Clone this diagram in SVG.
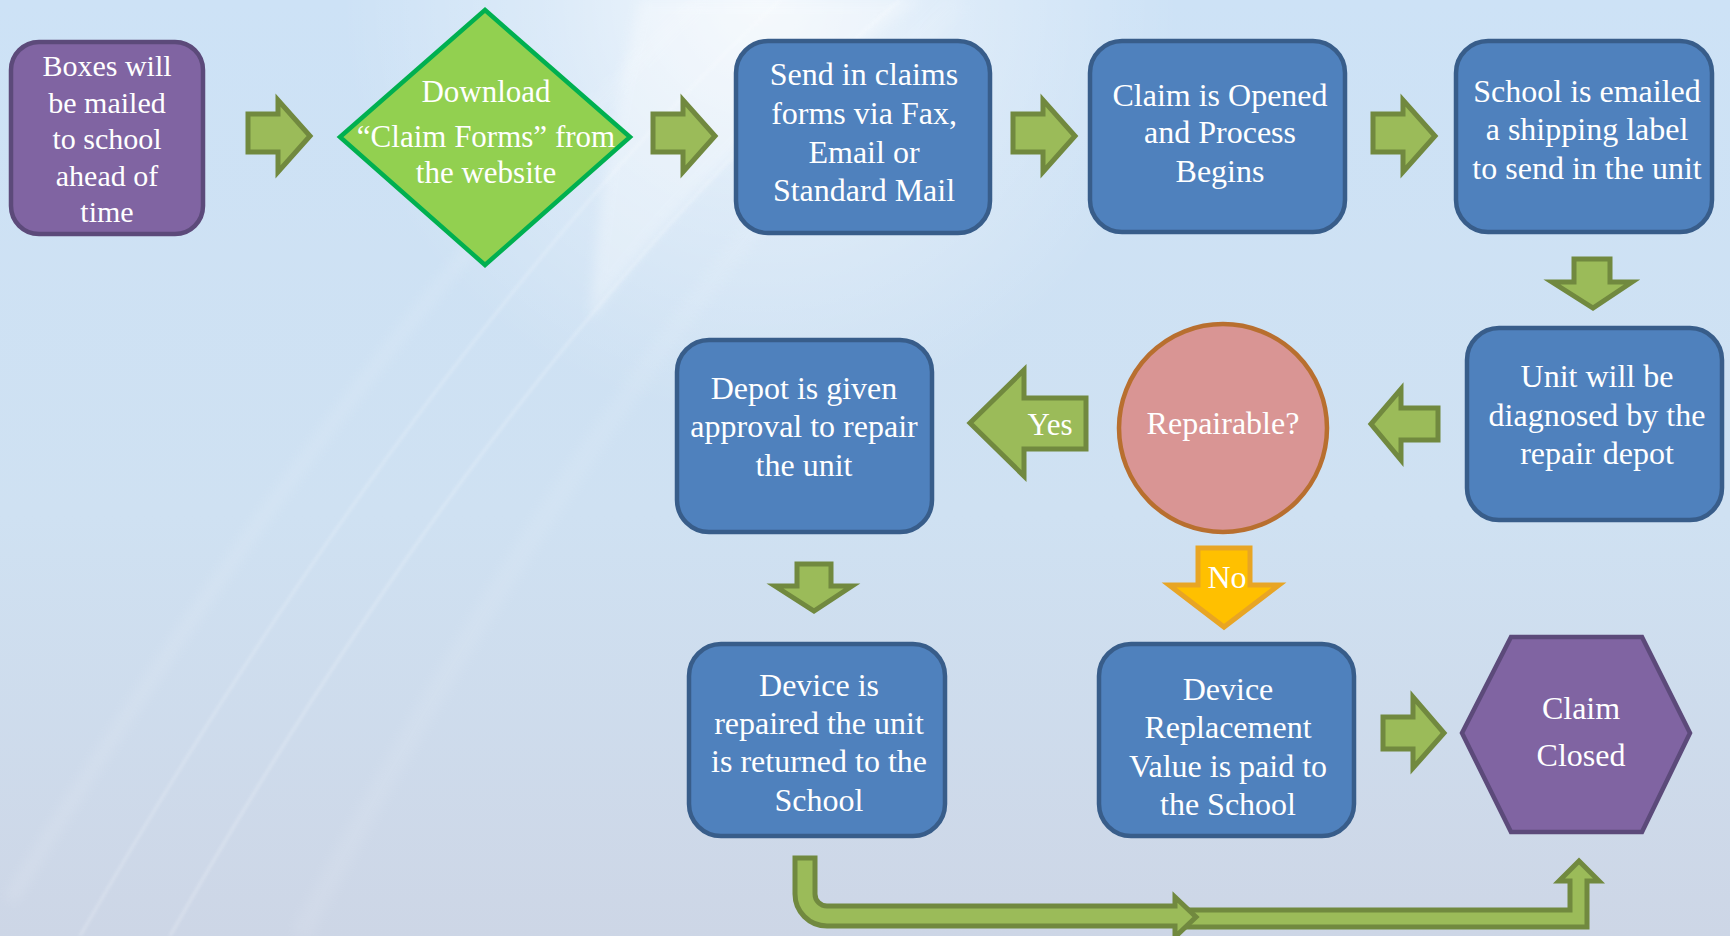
<svg xmlns="http://www.w3.org/2000/svg" width="1730" height="936" viewBox="0 0 1730 936">
<defs>
<linearGradient id="bg" x1="0" y1="0" x2="0" y2="1">
<stop offset="0" stop-color="#cde2f6"/>
<stop offset="0.55" stop-color="#cfe1f2"/>
<stop offset="1" stop-color="#cdd6e6"/>
</linearGradient>
<radialGradient id="glow" cx="760" cy="0" r="420" gradientUnits="userSpaceOnUse">
<stop offset="0" stop-color="#ffffff" stop-opacity="0.75"/>
<stop offset="0.5" stop-color="#ffffff" stop-opacity="0.3"/>
<stop offset="1" stop-color="#ffffff" stop-opacity="0"/>
</radialGradient>
<filter id="blur" x="-20%" y="-20%" width="140%" height="140%"><feGaussianBlur stdDeviation="6"/></filter>
<filter id="soft" x="-20%" y="-20%" width="140%" height="140%"><feGaussianBlur stdDeviation="1.5"/></filter>
<style>
.box{fill:#4f81bd;stroke:#385d8a;stroke-width:4.5}
.pur{fill:#8064a2;stroke:#5c4a7a;stroke-width:4.5}
.arr{fill:#9bbb59;stroke:#71893f;stroke-width:5;stroke-linejoin:miter}
.t{font-family:"Liberation Serif","Times New Roman",serif;font-size:32px;fill:#ffffff;text-anchor:middle}
.streak{fill:none;stroke:#ffffff}
</style>
</defs>
<g id="background">
<rect x="0" y="0" width="1730" height="936" fill="url(#bg)"/>
<rect x="0" y="0" width="1730" height="936" fill="url(#glow)"/>
<path d="M640,0 L920,0 Q720,140 590,320 Q600,160 640,0 Z" fill="#ffffff" opacity="0.3" filter="url(#blur)"/>
<path class="streak" d="M900,0 Q520,320 170,936" stroke-width="3" opacity="0.22" filter="url(#soft)"/>
<path class="streak" d="M780,0 Q430,330 80,936" stroke-width="3" opacity="0.2" filter="url(#soft)"/>
<path class="streak" d="M700,0 Q360,330 10,900" stroke-width="14" opacity="0.1" filter="url(#blur)"/>
<path class="streak" d="M960,0 Q620,330 300,936" stroke-width="20" opacity="0.08" filter="url(#blur)"/>
</g>
<g id="connectors">
<polygon class="arr" points="248,114 278,114 278,100 310,136 278,172 278,152 248,152"/>
<polygon class="arr" points="653,114 683,114 683,100 715,136 683,172 683,152 653,152"/>
<polygon class="arr" points="1013,114 1043,114 1043,100 1075,136 1043,172 1043,152 1013,152"/>
<polygon class="arr" points="1373,114 1403,114 1403,100 1435,136 1403,172 1403,152 1373,152"/>
<polygon class="arr" points="1574,259 1610,259 1610,282 1632,282 1593,308 1552,282 1574,282"/>
<polygon class="arr" points="1438,408 1401,408 1401,389 1371,424 1401,460 1401,440 1438,440"/>
<g id="yes-arrow">
<polygon class="arr" points="1086,398 1024,398 1024,370 970,423 1024,476 1024,449 1086,449"/>
<text class="t" x="1050" y="435" style="font-size:31px">Yes</text>
</g>
<polygon class="arr" points="797,564 831,564 831,586 852,586 814,611 775,586 797,586"/>
<g id="no-arrow">
<polygon points="1198,548 1250,548 1250,585 1279,585 1224,627 1169,585 1198,585" fill="#ffc000" stroke="#e8a524" stroke-width="5"/>
<text class="t" x="1227" y="588">No</text>
</g>
<polygon class="arr" points="1383,717 1413,717 1413,697 1444,733 1413,768 1413,749 1383,749"/>
<path class="arr" d="M1185,910 L1570,910 L1570,881 L1559,881 L1579,861 L1599,881 L1587,881 L1587,927 L1185,927 Z"/>
<path class="arr" d="M795,858 L815,858 L815,894 A12,12 0 0 0 827,906 L1175,906 L1175,897 L1196,917 L1175,937 L1175,926 L827,926 A32,32 0 0 1 795,894 Z"/>
</g>
<g id="boxes-mailed">
<rect class="pur" x="11" y="42" width="192" height="192" rx="28"/>
<text class="t" style="font-size:30px" x="107"><tspan x="107" y="76">Boxes will</tspan><tspan x="107" y="113">be mailed</tspan><tspan x="107" y="149">to school</tspan><tspan x="107" y="186">ahead of</tspan><tspan x="107" y="222">time</tspan></text>
</g>
<g id="download">
<polygon points="485,10 630,137 485,265 340,137" fill="#92d050" stroke="#00b050" stroke-width="4.5"/>
<text class="t" style="font-size:31px"><tspan x="486" y="102">Download</tspan><tspan x="486" y="147">“Claim Forms” from</tspan><tspan x="486" y="183">the website</tspan></text>
</g>
<g id="send-claims">
<rect class="box" x="736" y="41" width="254" height="192" rx="32"/>
<text class="t"><tspan x="864" y="85">Send in claims</tspan><tspan x="864" y="124">forms via Fax,</tspan><tspan x="864" y="163">Email or</tspan><tspan x="864" y="201">Standard Mail</tspan></text>
</g>
<g id="claim-opened">
<rect class="box" x="1090" y="41" width="255" height="191" rx="32"/>
<text class="t"><tspan x="1220" y="106">Claim is Opened</tspan><tspan x="1220" y="143">and Process</tspan><tspan x="1220" y="182">Begins</tspan></text>
</g>
<g id="school-emailed">
<rect class="box" x="1456" y="41" width="256" height="191" rx="32"/>
<text class="t"><tspan x="1587" y="102">School is emailed</tspan><tspan x="1587" y="140">a shipping label</tspan><tspan x="1587" y="179">to send in the unit</tspan></text>
</g>
<g id="unit-diagnosed">
<rect class="box" x="1467" y="328" width="255" height="192" rx="32"/>
<text class="t"><tspan x="1597" y="387">Unit will be</tspan><tspan x="1597" y="426">diagnosed by the</tspan><tspan x="1597" y="464">repair depot</tspan></text>
</g>
<g id="repairable">
<circle cx="1223" cy="428" r="104" fill="#d99594" stroke="#b86f2f" stroke-width="4.5"/>
<text class="t" x="1223" y="434">Repairable?</text>
</g>
<g id="depot-approval">
<rect class="box" x="677" y="340" width="255" height="192" rx="32"/>
<text class="t"><tspan x="804" y="399">Depot is given</tspan><tspan x="804" y="437">approval to repair</tspan><tspan x="804" y="476">the unit</tspan></text>
</g>
<g id="device-repaired">
<rect class="box" x="689" y="644" width="256" height="192" rx="32"/>
<text class="t"><tspan x="819" y="696">Device is</tspan><tspan x="819" y="734">repaired the unit</tspan><tspan x="819" y="772">is returned to the</tspan><tspan x="819" y="811">School</tspan></text>
</g>
<g id="device-replacement">
<rect class="box" x="1099" y="644" width="255" height="192" rx="32"/>
<text class="t"><tspan x="1228" y="700">Device</tspan><tspan x="1228" y="738">Replacement</tspan><tspan x="1228" y="777">Value is paid to</tspan><tspan x="1228" y="815">the School</tspan></text>
</g>
<g id="claim-closed">
<polygon class="pur" points="1462,733 1511,637 1642,637 1690,733 1642,832 1511,832"/>
<text class="t"><tspan x="1581" y="719">Claim</tspan><tspan x="1581" y="766">Closed</tspan></text>
</g>
</svg>
